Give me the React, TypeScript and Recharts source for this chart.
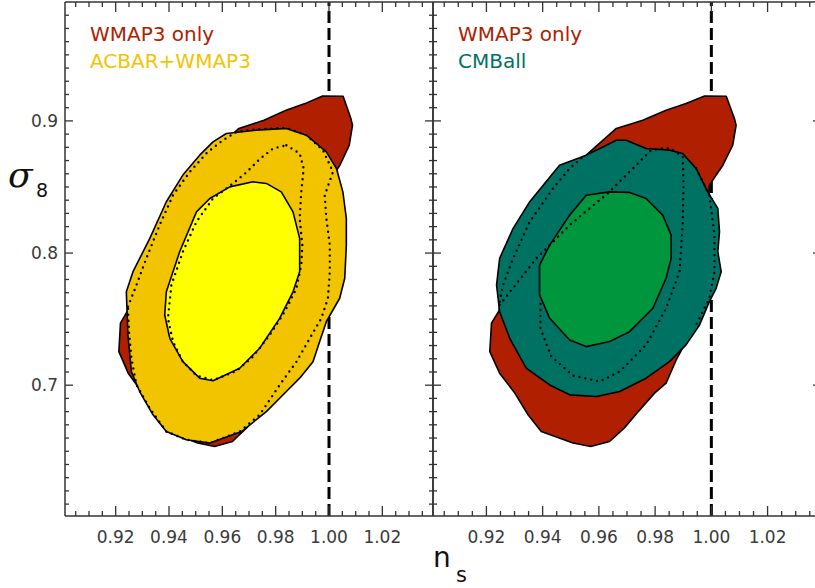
import React from 'react';
import { ComposedChart, Scatter, XAxis, YAxis, ReferenceLine } from 'recharts';

// axis ranges (n_s, sigma_8)
const NS_MIN = 0.901;
const NS_MAX = 1.039;
const S8_MIN = 0.601;
const S8_MAX = 0.99;

const xTicks = [
  0.905, 0.91, 0.915, 0.92, 0.925, 0.93, 0.935, 0.94, 0.945, 0.95, 0.955, 0.96, 0.965, 0.97,
  0.975, 0.98, 0.985, 0.99, 0.995, 1.0, 1.005, 1.01, 1.015, 1.02, 1.025, 1.03, 1.035,
];
const xMajor = [0.92, 0.94, 0.96, 0.98, 1.0, 1.02];
const yTicks = [
  0.61, 0.62, 0.63, 0.64, 0.65, 0.66, 0.67, 0.68, 0.69, 0.7, 0.71, 0.72, 0.73, 0.74, 0.75, 0.76,
  0.77, 0.78, 0.79, 0.8, 0.81, 0.82, 0.83, 0.84, 0.85, 0.86, 0.87, 0.88, 0.89, 0.9, 0.91, 0.92,
  0.93, 0.94, 0.95, 0.96, 0.97, 0.98,
];
const yMajor = [0.7, 0.8, 0.9];

// WMAP3 only, 95% region (same in both panels)
const wmap3Outer = [
  [0.9555, 0.8741], [0.9662, 0.8943], [0.9756, 0.9005], [0.9839, 0.9081], [0.991, 0.9131],
  [0.9976, 0.9189], [1.0053, 0.9187], [1.0082, 0.9018], [1.0088, 0.8967], [1.0076, 0.8816],
  [1.0041, 0.8665], [0.9993, 0.8514], [0.999, 0.835], [0.9985, 0.8], [0.997, 0.77],
  [0.994, 0.75], [0.991, 0.733], [0.9875, 0.7191], [0.9839, 0.7015], [0.9798, 0.694],
  [0.9735, 0.6788], [0.969, 0.6675], [0.9638, 0.6574], [0.9571, 0.6536], [0.9508, 0.6562],
  [0.9395, 0.6649], [0.9348, 0.6776], [0.9301, 0.694], [0.9247, 0.7091], [0.9212, 0.7254],
  [0.9218, 0.7469], [0.9245, 0.7564], [0.9255, 0.775], [0.932, 0.8], [0.939, 0.83],
  [0.947, 0.855], [0.951, 0.868],
];

// ACBAR+WMAP3
const acbarOuter = [
  [0.9615, 0.8905], [0.9728, 0.893], [0.984, 0.8943], [0.9915, 0.8892], [0.999, 0.8766],
  [1.0028, 0.864], [1.0052, 0.8463], [1.0065, 0.8262], [1.0065, 0.806], [1.0059, 0.7809],
  [1.004, 0.7658], [0.999, 0.7481], [0.9965, 0.733], [0.994, 0.7178], [0.989, 0.7053],
  [0.984, 0.6952], [0.9765, 0.68], [0.9672, 0.6649], [0.9553, 0.6562], [0.9465, 0.6587],
  [0.939, 0.6649], [0.934, 0.6776], [0.929, 0.6952], [0.9259, 0.7103], [0.9246, 0.738],
  [0.924, 0.7707], [0.9265, 0.7859], [0.9328, 0.8111], [0.939, 0.8388], [0.9452, 0.859],
  [0.9515, 0.8741], [0.9565, 0.8841],
];
const acbarInner = [
  [0.9715, 0.8539], [0.9765, 0.8527], [0.9821, 0.8463], [0.9865, 0.8312], [0.989, 0.8111],
  [0.989, 0.7859], [0.9865, 0.7707], [0.9815, 0.7506], [0.974, 0.728], [0.9665, 0.7128],
  [0.9565, 0.7033], [0.9515, 0.7053], [0.9452, 0.7178], [0.9403, 0.7355], [0.9384, 0.7531],
  [0.939, 0.7707], [0.944, 0.801], [0.9503, 0.8312], [0.9553, 0.8413], [0.9628, 0.8501],
];

// CMBall
const cmbOuter = [
  [0.9662, 0.8854], [0.9697, 0.8854], [0.9768, 0.8791], [0.9851, 0.8779], [0.9898, 0.8754],
  [0.9946, 0.864], [0.9987, 0.8463], [1.0023, 0.8338], [1.0029, 0.8161], [1.0023, 0.801],
  [1.0035, 0.7859], [1.0017, 0.7733], [0.9993, 0.7632], [0.9958, 0.7456], [0.991, 0.7305],
  [0.9851, 0.7178], [0.9768, 0.7053], [0.9674, 0.6952], [0.9591, 0.6914], [0.9496, 0.6927],
  [0.9425, 0.7002], [0.9342, 0.7128], [0.9283, 0.7355], [0.9247, 0.7556], [0.9236, 0.7758],
  [0.9247, 0.796], [0.9295, 0.8187], [0.9354, 0.8388], [0.946, 0.8665], [0.9555, 0.8741],
  [0.9614, 0.8803],
];
const cmbInner = [
  [0.9638, 0.8463], [0.9709, 0.8459], [0.9768, 0.8413], [0.9827, 0.8287], [0.9857, 0.8136],
  [0.9857, 0.796], [0.9839, 0.7809], [0.9792, 0.7582], [0.9709, 0.7405], [0.9638, 0.733],
  [0.9555, 0.7292], [0.9496, 0.7342], [0.9425, 0.7506], [0.9389, 0.7683], [0.9389, 0.7909],
  [0.9425, 0.806], [0.9496, 0.8287], [0.9555, 0.8438],
];

// dotted comparison contours
const leftDotOuter = [
  [0.9246, 0.7594], [0.9278, 0.7758], [0.9315, 0.796], [0.9365, 0.8212], [0.9415, 0.8438],
  [0.9478, 0.8615], [0.954, 0.8754], [0.9602, 0.8854], [0.9653, 0.8917], [0.9728, 0.8937],
  [0.984, 0.8947], [0.9915, 0.8892], [0.9977, 0.8779], [1.0015, 0.8615], [0.9984, 0.8438],
  [0.999, 0.8262], [1.0003, 0.806], [1.0003, 0.7859], [0.9996, 0.7658], [0.9971, 0.7506],
  [0.9928, 0.7355], [0.9878, 0.7178], [0.9815, 0.7002], [0.974, 0.6776], [0.9665, 0.6649],
  [0.9553, 0.6562], [0.9465, 0.6587], [0.939, 0.6649], [0.9328, 0.6825], [0.9278, 0.7002],
  [0.9259, 0.7204], [0.925, 0.7405],
];
const leftDotInner = [
  [0.984, 0.8816], [0.989, 0.8754], [0.9905, 0.864], [0.9896, 0.8463], [0.989, 0.8262],
  [0.99, 0.806], [0.9896, 0.7909], [0.9878, 0.7733], [0.9834, 0.7556], [0.9778, 0.738],
  [0.9715, 0.7216], [0.9653, 0.7108], [0.9565, 0.7038], [0.9503, 0.7073], [0.9452, 0.7178],
  [0.9415, 0.733], [0.9396, 0.7506], [0.9409, 0.7758], [0.9452, 0.801], [0.9503, 0.8237],
  [0.9565, 0.8413], [0.964, 0.8527], [0.969, 0.861], [0.974, 0.8711], [0.979, 0.8791],
];
const rightDotLeft = [
  [0.9247, 0.7632], [0.9259, 0.7758], [0.9295, 0.796], [0.9354, 0.8237], [0.9437, 0.8489],
  [0.9496, 0.864], [0.9543, 0.8728],
];
const rightDotRight = [
  [0.9946, 0.864], [0.9993, 0.8438], [1.0011, 0.8136], [1.0011, 0.7859], [0.9993, 0.7658],
  [0.9946, 0.7456],
];
const rightDotInner = [
  [0.9247, 0.7607], [0.9378, 0.796], [0.9496, 0.8212], [0.9638, 0.8463], [0.9786, 0.8779],
  [0.9851, 0.8796], [0.9898, 0.8728], [0.9901, 0.8514], [0.9898, 0.8212], [0.9887, 0.7859],
  [0.9839, 0.7582], [0.9768, 0.7305], [0.9674, 0.7103], [0.9602, 0.7027], [0.9508, 0.7073],
  [0.9431, 0.7216], [0.9392, 0.7431], [0.9392, 0.7658],
];

const RED = '#b02000';
const ORANGE = '#f2c400';
const YELLOW = '#ffff00';
const TEAL = '#007264';
const GREEN = '#00963e';
const AXIS = '#333';
const FONT = '"DejaVu Sans", Verdana, sans-serif';

const PLOT_TOP = 2;

const toPts = (arr: number[][]) => arr.map(([x, y]) => ({ x, y }));
const isMajor = (v: number, list: number[]) => list.some((m) => Math.abs(m - v) < 1e-6);

const pathOf = (pts: { x: number; y: number }[], closed: boolean) =>
  pts.map((p, i) => `${i ? 'L' : 'M'}${p.x},${p.y}`).join(' ') + (closed ? ' Z' : '');

const filledLine = (fill: string) => (lp: any) => (
  <path d={pathOf(lp.points, true)} fill={fill} stroke="#000" strokeWidth={1.6} strokeLinejoin="round" />
);
const dottedLine = (closed: boolean) => (lp: any) => (
  <path
    d={pathOf(lp.points, closed)}
    fill="none"
    stroke="#000"
    strokeWidth={2.4}
    strokeDasharray="0 6"
    strokeLinecap="round"
  />
);
const noDot = () => <g />;

const XTick = (props: any) => {
  const { x, y, payload } = props;
  const v = payload.value;
  const major = isMajor(v, xMajor);
  const len = major ? 10 : 5;
  return (
    <g>
      <line x1={x} x2={x} y1={y} y2={y - len} stroke={AXIS} strokeWidth={1.3} />
      <line x1={x} x2={x} y1={PLOT_TOP} y2={PLOT_TOP + len} stroke={AXIS} strokeWidth={1.3} />
      {major && (
        <text x={x} y={y + 27} textAnchor="middle" fontFamily={FONT} fontSize={17} fill="#3a3a3a">
          {v.toFixed(2)}
        </text>
      )}
    </g>
  );
};

const makeYTick = (rightX: number, labels: boolean) => (props: any) => {
  const { x, y, payload } = props;
  const v = payload.value;
  const major = isMajor(v, yMajor);
  const len = major ? 8 : 4;
  return (
    <g>
      <line x1={x} x2={x + len} y1={y} y2={y} stroke={AXIS} strokeWidth={1.3} />
      <line x1={rightX} x2={rightX - len} y1={y} y2={y} stroke={AXIS} strokeWidth={1.3} />
      {labels && major && (
        <text x={x - 7} y={y + 6} textAnchor="end" fontFamily={FONT} fontSize={17} fill="#3a3a3a">
          {v.toFixed(1)}
        </text>
      )}
    </g>
  );
};

interface PanelProps {
  left: number;
  width: number;
  yAxisWidth: number;
  marginLeft: number;
  marginRight: number;
  labels: boolean;
  children: React.ReactNode;
}

function Panel({ left, width, yAxisWidth, marginLeft, marginRight, labels, children }: PanelProps) {
  return (
    <div style={{ position: 'absolute', left, top: 0 }}>
      <ComposedChart
        width={width}
        height={588}
        margin={{ top: PLOT_TOP, right: marginRight, bottom: 42, left: marginLeft }}
      >
        <XAxis
          type="number"
          dataKey="x"
          domain={[NS_MIN, NS_MAX]}
          allowDataOverflow
          ticks={xTicks}
          interval={0}
          tick={XTick}
          tickLine={false}
          tickSize={0}
          tickMargin={0}
          height={30}
          axisLine={{ stroke: AXIS, strokeWidth: 1.5 }}
        />
        <YAxis
          type="number"
          dataKey="y"
          domain={[S8_MIN, S8_MAX]}
          allowDataOverflow
          ticks={yTicks}
          interval={0}
          tick={makeYTick(width - marginRight, labels)}
          tickLine={false}
          tickSize={0}
          tickMargin={0}
          width={yAxisWidth}
          axisLine={{ stroke: AXIS, strokeWidth: 1.5 }}
        />
        {children}
        <ReferenceLine x={1.0} stroke="#000" strokeWidth={3} strokeDasharray="12 5" />
        <ReferenceLine y={S8_MAX} stroke={AXIS} strokeWidth={1.5} />
        <ReferenceLine x={NS_MAX} stroke={AXIS} strokeWidth={1.5} />
      </ComposedChart>
    </div>
  );
}

export default function App() {
  return (
    <div
      style={{
        position: 'absolute',
        left: 0,
        top: 0,
        width: 815,
        height: 588,
        overflow: 'hidden',
        background: '#fff',
      }}
    >
      <Panel left={0} width={440} yAxisWidth={57} marginLeft={8} marginRight={7} labels>
        <Scatter data={toPts(wmap3Outer)} dataKey="y" line={filledLine(RED)} shape={noDot} isAnimationActive={false} />
        <Scatter data={toPts(acbarOuter)} dataKey="y" line={filledLine(ORANGE)} shape={noDot} isAnimationActive={false} />
        <Scatter data={toPts(acbarInner)} dataKey="y" line={filledLine(YELLOW)} shape={noDot} isAnimationActive={false} />
        <Scatter data={toPts(leftDotOuter)} dataKey="y" line={dottedLine(true)} shape={noDot} isAnimationActive={false} />
        <Scatter data={toPts(leftDotInner)} dataKey="y" line={dottedLine(true)} shape={noDot} isAnimationActive={false} />
      </Panel>
      <Panel left={425} width={404} yAxisWidth={8} marginLeft={0} marginRight={8} labels={false}>
        <Scatter data={toPts(wmap3Outer)} dataKey="y" line={filledLine(RED)} shape={noDot} isAnimationActive={false} />
        <Scatter data={toPts(cmbOuter)} dataKey="y" line={filledLine(TEAL)} shape={noDot} isAnimationActive={false} />
        <Scatter data={toPts(cmbInner)} dataKey="y" line={filledLine(GREEN)} shape={noDot} isAnimationActive={false} />
        <Scatter data={toPts(rightDotLeft)} dataKey="y" line={dottedLine(false)} shape={noDot} isAnimationActive={false} />
        <Scatter data={toPts(rightDotRight)} dataKey="y" line={dottedLine(false)} shape={noDot} isAnimationActive={false} />
        <Scatter data={toPts(rightDotInner)} dataKey="y" line={dottedLine(false)} shape={noDot} isAnimationActive={false} />
      </Panel>
      <svg
        width={815}
        height={588}
        style={{ position: 'absolute', left: 0, top: 0, pointerEvents: 'none' }}
      >
        <g fontFamily={FONT} fontSize={20}>
          <text x={90} y={41} fill={RED}>WMAP3 only</text>
          <text x={90} y={68} fill={ORANGE}>ACBAR+WMAP3</text>
          <text x={458} y={41} fill={RED}>WMAP3 only</text>
          <text x={458} y={68} fill={TEAL}>CMBall</text>
        </g>
        <text x={8} y={187} fontFamily='"DejaVu Serif", serif' fontStyle="italic" fontSize={36} fill="#111">
          σ
        </text>
        <text x={36} y={197} fontFamily={FONT} fontSize={19} fill="#111">
          8
        </text>
        <text x={433} y={567} fontFamily={FONT} fontSize={28} fill="#111">
          n
        </text>
        <text x={456} y={582} fontFamily={FONT} fontSize={21} fill="#111">
          s
        </text>
      </svg>
    </div>
  );
}
